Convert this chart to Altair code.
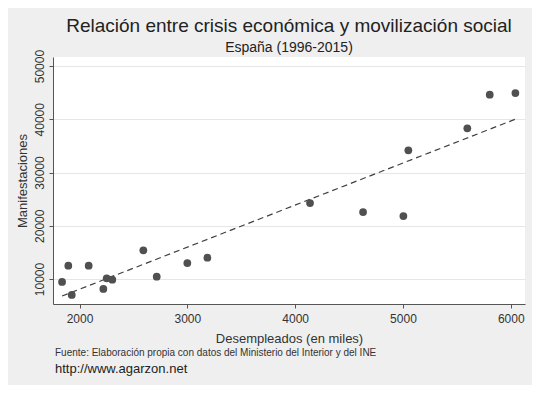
import altair as alt
import pandas as pd

desempleados = [1838, 1896, 1928, 2085, 2221, 2252, 2304, 2592, 2716, 3000, 3186,
                4138, 4630, 5004, 5050, 5597, 5805, 6043]
manifestaciones = [9440, 12500, 7000, 12500, 8120, 10130, 9870, 15390, 10430, 13000, 14000,
                   24270, 22580, 21830, 34170, 38300, 44610, 44930]
x_ticks = [2000, 3000, 4000, 5000, 6000]
y_ticks = [10000, 20000, 30000, 40000, 50000]

df = pd.DataFrame({"x": desempleados, "y": manifestaciones})

FONT = "Liberation Sans"
x_enc = alt.X("x:Q", title="Desempleados (en miles)",
              scale=alt.Scale(domain=[1754, 6132], nice=False, zero=False),
              axis=alt.Axis(values=x_ticks, format="d", grid=False, tickSize=4,
                            labelPadding=5, titlePadding=8))
y_enc = alt.Y("y:Q", title="Manifestaciones",
              scale=alt.Scale(domain=[5300, 51700], nice=False, zero=False),
              axis=alt.Axis(values=y_ticks, format="d", grid=True, tickSize=4,
                            labelAngle=270, labelAlign="center", labelBaseline="bottom",
                            labelPadding=3, titlePadding=4))

points = alt.Chart(df).mark_circle(size=60, color="#505050", opacity=1).encode(x=x_enc, y=y_enc)

fit = alt.Chart(df).transform_regression("x", "y").mark_line(
    color="#404040", strokeDash=[6, 4], strokeWidth=1.2
).encode(x="x:Q", y="y:Q")

footer = alt.Chart(pd.DataFrame({"t": ["Fuente: Elaboración propia con datos del Ministerio del Interior y del INE"]})).mark_text(
    align="left", baseline="middle", fontSize=10, font=FONT, color="#333333"
).encode(x=alt.value(2), y=alt.value(296), text="t:N")

url = alt.Chart(pd.DataFrame({"t": ["http://www.agarzon.net"]})).mark_text(
    align="left", baseline="middle", fontSize=13, font=FONT, color="#222222"
).encode(x=alt.value(2), y=alt.value(312), text="t:N")

chart = alt.layer(fit, points, footer, url).properties(
    width=472, height=247,
    autosize=alt.AutoSizeParams(type="none"),
    padding={"left": 45, "top": 49, "right": 7, "bottom": 81},
    background="#efefef",
    title=alt.TitleParams(
        text="Relación entre crisis económica y movilización social",
        subtitle="España (1996-2015)",
        anchor="middle", fontSize=19, subtitleFontSize=14,
        font=FONT, subtitleFont=FONT, fontWeight="normal",
        color="#222222", subtitleColor="#222222",
        offset=-6, subtitlePadding=5,
    ),
).configure_view(fill="white", stroke=None).configure_axis(
    labelFont=FONT, titleFont=FONT, labelFontSize=12, titleFontSize=13,
    titleFontWeight="normal", labelColor="#333333", titleColor="#333333",
    domainColor="#555555", tickColor="#555555", gridColor="#e6e6e6",
)

chart.save("out.html", embed_options={"renderer": "svg", "actions": False})
